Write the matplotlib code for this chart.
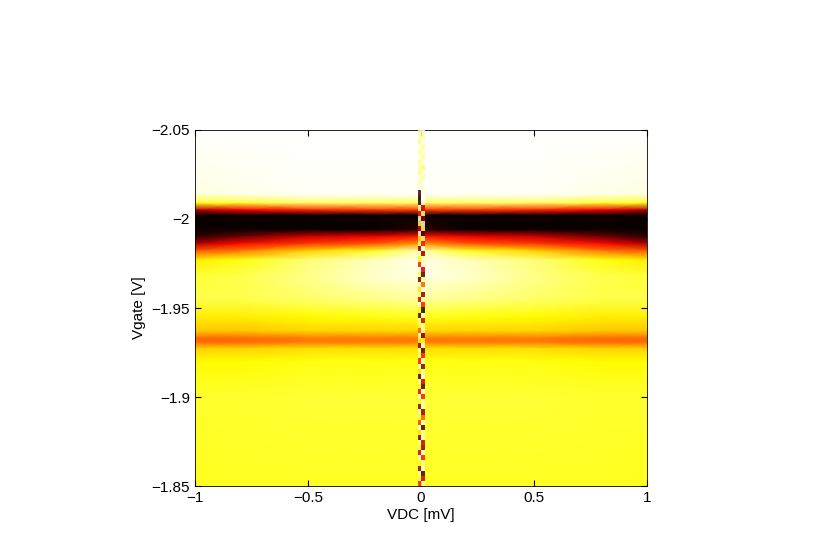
import numpy as np
import matplotlib
matplotlib.use("Agg")
import matplotlib.pyplot as plt

plt.rcParams['font.family'] = ['Liberation Sans', 'DejaVu Sans']

# Gate voltage nodes (rows) and VDC nodes (half: edge -> center)
vgate = [-2.05, -2.014, -2.009, -2.005, -2.002, -1.994, -1.99, -1.986, -1.982,
         -1.977, -1.968, -1.955, -1.945, -1.937, -1.933, -1.931, -1.927, -1.92, -1.90, -1.85]
vdc_half = [-1.0, -0.8, -0.5, -0.2, 0.0]
# conductance-like values (normalized) per row, from edge to center
g_half = [
    [1.00, 1.00, 1.00, 1.00, 1.00],
    [0.97, 0.98, 0.99, 0.99, 0.99],
    [0.78, 0.80, 0.85, 0.85, 0.85],
    [0.25, 0.35, 0.42, 0.45, 0.45],
    [0.00, 0.00, 0.00, 0.00, 0.00],
    [0.00, 0.00, 0.00, 0.00, 0.05],
    [0.05, 0.15, 0.30, 0.35, 0.40],
    [0.25, 0.38, 0.45, 0.50, 0.60],
    [0.50, 0.55, 0.68, 0.78, 0.92],
    [0.72, 0.76, 0.86, 0.93, 0.98],
    [0.80, 0.82, 0.88, 0.95, 0.97],
    [0.82, 0.82, 0.85, 0.88, 0.90],
    [0.72, 0.72, 0.74, 0.76, 0.77],
    [0.66, 0.66, 0.68, 0.68, 0.68],
    [0.52, 0.52, 0.55, 0.55, 0.55],
    [0.52, 0.52, 0.55, 0.55, 0.55],
    [0.68, 0.68, 0.70, 0.70, 0.70],
    [0.74, 0.74, 0.76, 0.76, 0.76],
    [0.79, 0.79, 0.80, 0.80, 0.80],
    [0.77, 0.78, 0.78, 0.78, 0.78],
]
# noisy zero-bias streak values, top to bottom (left and right sub-columns)
streak_l = [0.9, 0.95, 0.85, 0.97, 0.9, 0.95, 0.88, 0.92, 0.85, 0.95, 0.9, 0.97,
            0.1, 0.0, 0.05, 0.9, 0.4, 0.95, 0.8, 0.3, 0.95, 0.7, 0.85, 0.2, 0.9,
            0.75, 0.4, 0.95, 0.8, 0.15, 0.9, 0.7, 0.85, 0.3, 0.95, 0.75, 0.1, 0.9,
            0.8, 0.5, 0.95, 0.75, 0.2, 0.9, 0.85, 0.4, 0.95, 0.7, 0.1, 0.9, 0.8,
            0.35, 0.95, 0.75, 0.2, 0.9, 0.8, 0.45, 0.95, 0.7, 0.15, 0.9, 0.8, 0.3,
            0.95, 0.75, 0.2, 0.9, 0.8, 0.4]
streak_r = [0.95, 0.9, 0.97, 0.88, 0.95, 0.9, 0.96, 0.85, 0.95, 0.9, 0.98, 0.95,
            0.99, 1.0, 0.98, 0.3, 0.9, 0.2, 0.95, 0.85, 0.1, 0.9, 0.4, 0.95, 0.2,
            0.9, 0.95, 0.3, 0.1, 0.9, 0.5, 0.95, 0.2, 0.9, 0.4, 0.05, 0.95, 0.3,
            0.9, 0.95, 0.2, 0.8, 0.95, 0.1, 0.4, 0.95, 0.2, 0.9, 0.95, 0.3, 0.1,
            0.95, 0.4, 0.9, 0.95, 0.2, 0.5, 0.95, 0.1, 0.9, 0.95, 0.3, 0.2, 0.95,
            0.4, 0.9, 0.95, 0.1, 0.3, 0.9]

vdc = np.array(vdc_half + [-v for v in vdc_half[-2::-1]])
G = np.array([row + row[-2::-1] for row in g_half])

fig = plt.figure(figsize=(8.4, 5.5), dpi=100)
ax = fig.add_axes([0.232, 0.116, 0.538, 0.648])
ax.pcolormesh(vdc, np.array(vgate), G, shading='gouraud', cmap='hot', vmin=0, vmax=1)
S = np.column_stack([streak_l, streak_r])
ax.imshow(S, extent=[-0.014, 0.014, -1.85, -2.05], aspect='auto', cmap='hot',
          vmin=0, vmax=1, interpolation='nearest', zorder=3, alpha=0.85)
ax.set_xlim(-1, 1)
ax.set_ylim(-1.85, -2.05)
ax.set_xticks([-1, -0.5, 0, 0.5, 1])
ax.set_xticklabels(['\u22121', '\u22120.5', '0', '0.5', '1'])
ax.set_yticks([-2.05, -2, -1.95, -1.9, -1.85])
ax.set_yticklabels(['\u22122.05', '\u22122', '\u22121.95', '\u22121.9', '\u22121.85'])
ax.tick_params(direction='in', top=True, right=True, labelsize=11, length=4)
ax.set_xlabel('VDC [mV]', fontsize=11, labelpad=2)
ax.set_ylabel('Vgate [V]', fontsize=11)
for s in ax.spines.values():
    s.set_linewidth(0.6)
fig.savefig('out.png', dpi=100)
